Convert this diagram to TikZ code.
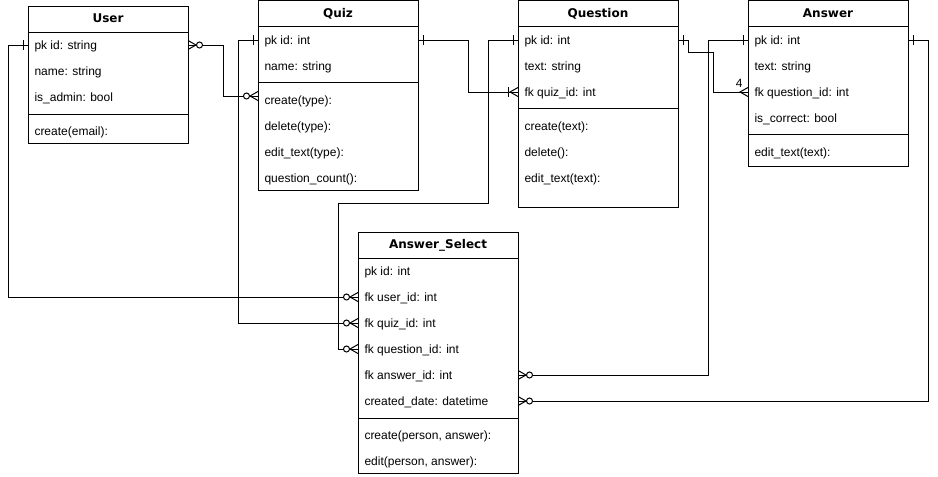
\documentclass[tikz,border=0pt]{standalone}
\usepackage{fontspec}
\setmainfont{Liberation Sans}
\newfontfamily\hdrfont{DejaVu Sans}
\begin{document}
\begin{tikzpicture}[x=1pt,y=-1pt,line width=1pt,
  tbl/.style={draw,anchor=north west,inner sep=0pt,outer sep=0pt,minimum width=160pt},
  hdr/.style={font=\hdrfont\bfseries\fontsize{12}{14}\selectfont,inner sep=0pt,text height=9pt,text depth=2pt},
  row/.style={anchor=west,font=\fontsize{12}{14}\selectfont,inner sep=0pt,text height=9pt,text depth=1pt},
  lbl/.style={font=\fontsize{12}{14}\selectfont,inner sep=0pt},
  bar/.pic={\draw (-5,-5) -- (-5,5);},
  crow/.pic={\draw (0,-4.5) -- (-8,0) -- (0,4.5);},
  barcrow/.pic={\draw (0,-4.5) -- (-8,0) -- (0,4.5); \draw (-10,-5) -- (-10,5);},
  zcrow/.pic={\draw (0,-4.5) -- (-8,0) -- (0,4.5); \draw[fill=white] (-11.5,0) circle (3);}
]
\useasboundingbox (0,0) rectangle (938,477);

% ---------- User ----------
\node[tbl,minimum height=137pt] (user) at (28,6) {};
\node[hdr] (userh) at (108,19) {User};
\draw (28,32) -- (188,32);
\draw (28,114) -- (188,114);
\node[row] (u1) at (34,45) {pk id: string};
\node[row] (u2) at (34,71) {name: string};
\node[row] (u3) at (34,97) {is\_admin: bool};
\node[row] (u4) at (34,131) {create(email):};

% ---------- Quiz ----------
\node[tbl,minimum height=189.5pt] (quiz) at (258,0.5) {};
\node[hdr] (quizh) at (338,14) {Quiz};
\draw (258,26) -- (418,26);
\draw (258,82) -- (418,82);
\node[row] (q1) at (264,40) {pk id: int};
\node[row] (q2) at (264,66) {name: string};
\node[row] (q3) at (264,100) {create(type):};
\node[row] (q4) at (264,126) {delete(type):};
\node[row] (q5) at (264,152) {edit\_text(type):};
\node[row] (q6) at (264,178) {question\_count():};
\coordinate (qlink) at (258,96);

% ---------- Question ----------
\node[tbl,minimum height=206.5pt] (question) at (518,0.5) {};
\node[hdr] (questionh) at (598,14) {Question};
\draw (518,26) -- (678,26);
\draw (518,108) -- (678,108);
\node[row] (qq1) at (524,40) {pk id: int};
\node[row] (qq2) at (524,66) {text: string};
\node[row] (qq3) at (524,92) {fk quiz\_id: int};
\node[row] (qq4) at (524,126) {create(text):};
\node[row] (qq5) at (524,152) {delete():};
\node[row] (qq6) at (524,178) {edit\_text(text):};

% ---------- Answer ----------
\node[tbl,minimum height=165.5pt] (answer) at (748,0.5) {};
\node[hdr] (answerh) at (828,14) {Answer};
\draw (748,26) -- (908,26);
\draw (748,134) -- (908,134);
\node[row] (a1) at (754,40) {pk id: int};
\node[row] (a2) at (754,66) {text: string};
\node[row] (a3) at (754,92) {fk question\_id: int};
\node[row] (a4) at (754,118) {is\_correct: bool};
\node[row] (a5) at (754,152) {edit\_text(text):};

% ---------- Answer_Select ----------
\node[tbl,minimum height=241pt] (asel) at (358,232) {};
\node[hdr] (aselh) at (438,245) {Answer\_Select};
\draw (358,258) -- (518,258);
\draw (358,418) -- (518,418);
\node[row] (s1) at (364,271) {pk id: int};
\node[row] (s2) at (364,297) {fk user\_id: int};
\node[row] (s3) at (364,323) {fk quiz\_id: int};
\node[row] (s4) at (364,349) {fk question\_id: int};
\node[row] (s5) at (364,375) {fk answer\_id: int};
\node[row] (s6) at (364,401) {created\_date: datetime};
\node[row] (s7) at (364,435) {create(person, answer):};
\node[row] (s8) at (364,461) {edit(person, answer):};

% ---------- Connectors ----------
% User.id -> Answer_Select.user_id
\draw (user.west |- u1) -- ++(-20,0) |- (asel.west |- s2);
% User -> Quiz (many to many)
\draw (user.east |- u1) -- ++(35,0) |- (qlink);
% Quiz.id -> Answer_Select.quiz_id
\draw (quiz.west |- q1) -- ++(-20,0) |- (asel.west |- s3);
% Quiz.id -> Question.quiz_id
\draw (quiz.east |- q1) -- ++(50,0) |- (question.west |- qq3);
% Question.id -> Answer_Select.question_id
\draw (question.west |- qq1) -- ++(-30,0) -- ++(0,163) -- ++(-150,0) |- (asel.west |- s4);
% Question.id -> Answer.question_id
\draw (question.east |- qq1) -- ++(10,0) -- ++(0,12) -- ++(25,0) |- (answer.west |- a3);
\node[lbl,anchor=south east] (four) at (743,88) {4};
% Answer.id -> Answer_Select.answer_id
\draw (answer.west |- a1) -- ++(-40,0) |- (asel.east |- s5);
% Answer.id -> Answer_Select.created_date
\draw (answer.east |- a1) -- ++(20,0) |- (asel.east |- s6);

% ---------- End symbols ----------
\path (user.west |- u1) pic {bar};
\path (asel.west |- s2) pic {zcrow};
\path (user.east |- u1) pic[xscale=-1] {zcrow};
\path (qlink) pic {zcrow};
\path (quiz.west |- q1) pic {bar};
\path (asel.west |- s3) pic {zcrow};
\path (quiz.east |- q1) pic[xscale=-1] {bar};
\path (question.west |- qq3) pic {barcrow};
\path (question.west |- qq1) pic {bar};
\path (asel.west |- s4) pic {zcrow};
\path (question.east |- qq1) pic[xscale=-1] {bar};
\path (answer.west |- a3) pic {crow};
\path (answer.west |- a1) pic {bar};
\path (asel.east |- s5) pic[xscale=-1] {zcrow};
\path (answer.east |- a1) pic[xscale=-1] {bar};
\path (asel.east |- s6) pic[xscale=-1] {zcrow};
\end{tikzpicture}
\end{document}
